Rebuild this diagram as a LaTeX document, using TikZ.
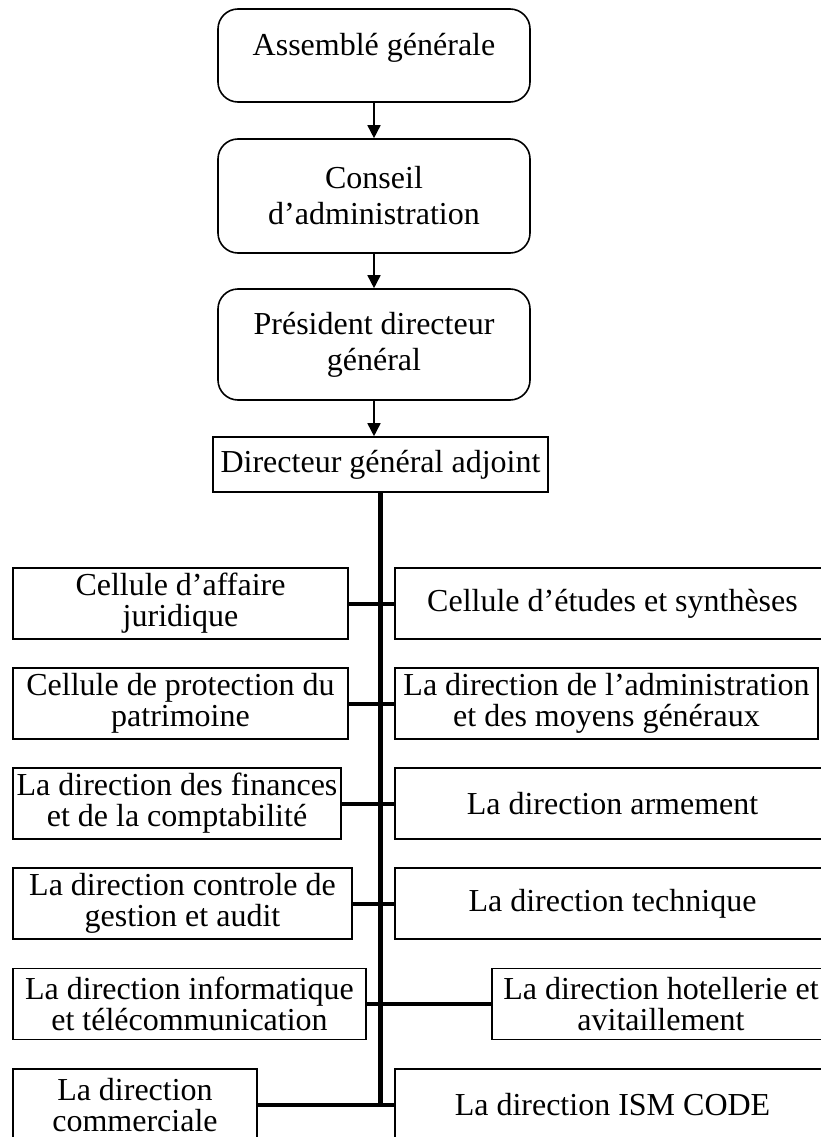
\documentclass[tikz,border=0pt]{standalone}
\usepackage{fontspec}
\setmainfont{Liberation Serif}
\usetikzlibrary{arrows.meta}
\begin{document}
\begin{tikzpicture}[x=1pt,y=-1pt,
  unit/.style={draw, line width=1.6pt, inner sep=0pt, align=center,
    font=\fontsize{32}{31}\selectfont},
  topunit/.style={unit, rounded corners=20pt, minimum width=312pt,
    font=\fontsize{32}{36}\selectfont},
  arr/.style={line width=1.6pt, -{Triangle[width=13pt,length=13pt]}},
  spine/.style={line width=5pt},
  link/.style={line width=4pt}]
\clip (0,0) rectangle (821,1137);

% governing bodies
\node[topunit, minimum height=93pt, text height=22pt, text depth=22pt]
  (ag) at (374,55.5) {Assemblé générale};
\node[topunit, minimum height=114pt] (ca) at (374,196) {Conseil\\d’administration};
\node[topunit, minimum height=111pt] (pdg) at (374,344.5) {Président directeur\\général};
\node[unit, minimum width=335pt, minimum height=55pt] (dga) at (380.5,464.5) {Directeur général adjoint};

% left column
\node[unit, minimum width=335pt, minimum height=71pt] (l1) at (180.5,603.5) {Cellule d’affaire\\juridique};
\node[unit, minimum width=335pt, minimum height=71pt] (l2) at (180.5,703.5) {Cellule de protection du\\patrimoine};
\node[unit, minimum width=328pt, minimum height=71pt] (l3) at (177,803.5) {La direction des finances\\et de la comptabilité};
\node[unit, minimum width=339pt, minimum height=71pt] (l4) at (182.5,903.5) {La direction controle de\\gestion et audit};
\node[unit, minimum width=353pt, minimum height=71pt] (l5) at (189.5,1004) {La direction informatique\\et télécommunication};
\node[unit, minimum width=244pt, minimum height=72pt] (l6) at (135,1105) {La direction\\commerciale};

% right column
\node[unit, minimum width=435pt, minimum height=71pt] (r1) at (612.5,603.5) {Cellule d’études et synthèses};
\node[unit, minimum width=423pt, minimum height=71pt] (r2) at (606.5,703.5) {La direction de l’administration\\et des moyens généraux};
\node[unit, minimum width=435pt, minimum height=71pt] (r3) at (612.5,803.5) {La direction armement};
\node[unit, minimum width=435pt, minimum height=71pt] (r4) at (612.5,903.5) {La direction technique};
\node[unit, minimum width=338pt, minimum height=71pt] (r5) at (661,1004) {La direction hotellerie et\\avitaillement};
\node[unit, minimum width=435pt, minimum height=72pt] (r6) at (612.5,1105) {La direction ISM CODE};

% chain of command
\draw[arr] (ag) -- (ca);
\draw[arr] (ca) -- (pdg);
\draw[arr] (pdg.south) -- (pdg.south |- dga.north);

% spine and branches
\coordinate (top) at (380,0);
\coordinate (spinetop) at (top |- dga.south);
\coordinate (spinebot) at ([yshift=2.5pt]top |- l6.east);
\draw[spine] (spinetop) -- (spinebot);
\foreach \i in {1,...,6}{
  \draw[link] (l\i.east) -- (r\i.west);
}
\end{tikzpicture}
\end{document}
